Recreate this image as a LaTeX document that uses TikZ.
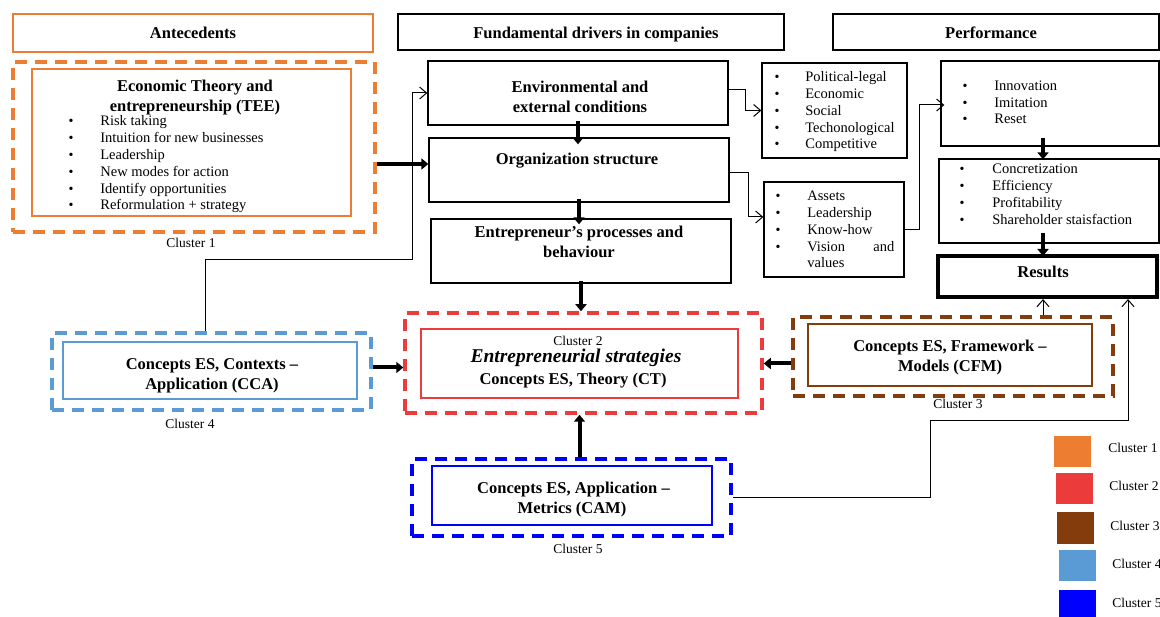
\documentclass[tikz,border=0pt]{standalone}
\usepackage{fontspec}
\setmainfont{Liberation Serif}
\usepackage{tikz}
\usetikzlibrary{arrows.meta,calc}
\definecolor{clorange}{RGB}{237,125,49}
\definecolor{clred}{RGB}{235,59,59}
\definecolor{clbrown}{RGB}{132,60,12}
\definecolor{cllblue}{RGB}{91,155,213}
\definecolor{clblue}{RGB}{0,0,255}
\tikzset{every picture/.style={line width=0.75pt}}
\tikzset{
  box/.style={draw, line width=1.3pt, inner sep=0pt},
  dbox/.style={draw, line width=3.5pt, dash pattern=on 12pt off 8pt, inner sep=0pt},
  ibox/.style={draw, line width=1.2pt, inner sep=0pt},
  ttl/.style={font=\fontsize{16.5}{20}\selectfont\bfseries, anchor=base, inner sep=0pt},
  itm/.style={font=\fontsize{14.5}{17}\selectfont, anchor=base west, inner sep=0pt},
  blt/.style={font=\fontsize{14}{16}\selectfont, anchor=base, inner sep=0pt},
  clab/.style={font=\fontsize{13.5}{16}\selectfont, anchor=base, inner sep=0pt},
  thk/.style={line width=4pt, -{Triangle[length=7pt,width=11pt]}},
  thn/.style={line width=1pt, -{Straight Barb[length=7pt,width=12pt]}},
  lgd/.style={minimum width=37pt, minimum height=31pt, inner sep=0pt}
}

\begin{document}
\begin{tikzpicture}[x=1pt,y=1pt,yscale=-1,xscale=1]
\useasboundingbox (0,0) rectangle (1160,617);

%Headers
\node[box, draw=clorange, minimum width=360, minimum height=38] (ante) at (193,33) {};
\node[ttl] (antet) at (193,39) {Antecedents};
\node[box, minimum width=386, minimum height=36] (fund) at (591,32) {};
\node[ttl] (fundt) at (596,39) {Fundamental drivers in companies};
\node[box, minimum width=326, minimum height=36] (perf) at (996,32) {};
\node[ttl] (perft) at (991,39) {Performance};

%Cluster 1
\node[dbox, draw=clorange, minimum width=362, minimum height=170] (cl1) at (194,147) {};
\node[ibox, draw=clorange, minimum width=319, minimum height=147] (tee) at (191.5,142.5) {};
\node[ttl] (teet1) at (195,92) {Economic Theory and};
\node[ttl] (teet2) at (195,112) {entrepreneurship (TEE)};
\foreach \t [count=\i] in {Risk taking,Intuition for new businesses,Leadership,New modes for action,Identify\ opportunities,Reformulation + strategy}{
  \node[blt] (teeb\i) at (71,{126+16.8*(\i-1)}) {\textbullet};
  \node[itm] (tee\i) at (100,{126+16.8*(\i-1)}) {\t};
}
\node[clab] (cl1t) at (191,248) {Cluster 1};

%Fundamental drivers
\node[box, minimum width=300, minimum height=64] (env) at (578,93) {};
\node[ttl] (envt1) at (580,93) {Environmental and};
\node[ttl] (envt2) at (580,113) {external conditions};
\node[box, minimum width=300, minimum height=64] (org) at (579,170) {};
\node[ttl] (orgt) at (577,165) {Organization structure};
\node[box, minimum width=300, minimum height=64] (entr) at (581,251) {};
\node[ttl] (entrt1) at (579,238) {Entrepreneur’s processes and};
\node[ttl] (entrt2) at (579,258) {behaviour};

%Lists of drivers
\node[box, minimum width=145, minimum height=95] (envl) at (834.5,110.5) {};
\foreach \t [count=\i] in {Political-legal,Economic,Social,Techonological,Competitive}{
  \node[blt] (envlb\i) at (777,{82+16.75*(\i-1)}) {\textbullet};
  \node[itm] (envl\i) at (805,{82+16.75*(\i-1)}) {\t};
}
\node[box, minimum width=140, minimum height=95] (orgl) at (834,229.5) {};
\foreach \t [count=\i] in {Assets,Leadership,Know-how,\makebox[87pt][l]{Vision\hfill and}}{
  \node[blt] (orglb\i) at (778,{201+16.75*(\i-1)}) {\textbullet};
  \node[itm] (orgl\i) at (807,{201+16.75*(\i-1)}) {\t};
}
\node[itm] (orgl5) at (807,268) {values};

%Performance
\node[box, minimum width=218, minimum height=85] (innov) at (1050,103.5) {};
\foreach \t [count=\i] in {Innovation,Imitation,Reset}{
  \node[blt] (innovb\i) at (965,{91+16.5*(\i-1)}) {\textbullet};
  \node[itm] (innov\i) at (994,{91+16.5*(\i-1)}) {\t};
}
\node[box, minimum width=220, minimum height=84] (conc) at (1049,201) {};
\foreach \t [count=\i] in {Concretization,Efficiency,Profitability,Shareholder\ staisfaction}{
  \node[blt] (concb\i) at (962,{174+16.7*(\i-1)}) {\textbullet};
  \node[itm] (conc\i) at (992,{174+16.7*(\i-1)}) {\t};
}
\node[box, line width=4pt, minimum width=219, minimum height=41] (res) at (1047,276.5) {};
\node[ttl] (rest) at (1043,278) {Results};

%Cluster 2
\node[dbox, draw=clred, minimum width=357, minimum height=100] (cl2) at (583.5,363) {};
\node[ibox, draw=clred, minimum width=317, minimum height=69] (ct) at (579.5,363.5) {};
\node[clab] (cl2t) at (578,346) {Cluster 2};
\node[ttl, font=\fontsize{19.5}{22}\selectfont\bfseries\itshape] (ctt1) at (576,363) {Entrepreneurial strategies};
\node[ttl] (ctt2) at (573,385) {Concepts ES, Theory (CT)};

%Cluster 4
\node[dbox, draw=cllblue, minimum width=319, minimum height=77] (cl4) at (211.5,371.5) {};
\node[ibox, draw=cllblue, minimum width=294, minimum height=57] (cca) at (210,370.5) {};
\node[ttl] (ccat1) at (212,370) {Concepts ES, Contexts –};
\node[ttl] (ccat2) at (212,390) {Application (CCA)};
\node[clab] (cl4t) at (190,429) {Cluster 4};

%Cluster 3
\node[dbox, draw=clbrown, minimum width=320, minimum height=79] (cl3) at (953,356.5) {};
\node[ibox, draw=clbrown, minimum width=284, minimum height=62] (cfm) at (950,355) {};
\node[ttl] (cfmt1) at (950,352) {Concepts ES, Framework –};
\node[ttl] (cfmt2) at (950,372) {Models (CFM)};
\node[clab] (cl3t) at (958,409) {Cluster 3};

%Cluster 5
\node[dbox, draw=clblue, minimum width=319, minimum height=77] (cl5) at (571.5,497.5) {};
\node[ibox, draw=clblue, minimum width=280, minimum height=59] (cam) at (572,495.5) {};
\node[ttl] (camt1) at (573.5,494) {Concepts ES, Application –};
\node[ttl] (camt2) at (572,514) {Metrics (CAM)};
\node[clab] (cl5t) at (578,553) {Cluster 5};

%Legend
\node[lgd, fill=clorange] (k1) at (1072.5,451.5) {};
\node[clab, anchor=base west] (k1t) at (1108,453) {Cluster 1};
\node[lgd, fill=clred] (k2) at (1074.5,489) {};
\node[clab, anchor=base west] (k2t) at (1109,491) {Cluster 2};
\node[lgd, fill=clbrown] (k3) at (1075.5,528) {};
\node[clab, anchor=base west] (k3t) at (1110,530) {Cluster 3};
\node[lgd, fill=cllblue] (k4) at (1077,565.5) {};
\node[clab, anchor=base west] (k4t) at (1112,568) {Cluster 4};
\node[lgd, fill=clblue] (k5) at (1077,605) {};
\node[clab, anchor=base west] (k5t) at (1112,607) {Cluster 5};

%Thick arrows
\draw[thk] ($(cl1.east)+(0,17)$) -- ($(org.west)+(0,-6)$);
\draw[thk, shorten <=-5pt, shorten >=-7pt] (env.south) -- (env.south |- org.north);
\draw[thk, shorten <=-4pt, shorten >=-6pt] (org.south) -- (org.south |- entr.north);
\draw[thk, shorten <=-3pt] (entr.south) -- (entr.south |- cl2.north);
\draw[thk] (ct.south |- cl5.north) -- (ct.south |- cl2.south);
\draw[thk] ($(cl4.east)+(0,-4)$) -- ($(cl4.east -| cl2.west)+(0,-4)$);
\draw[thk] (cl3.west |- ct.east) -- (cl2.east |- ct.east);
\draw[thk, shorten <=-9pt, shorten >=-1pt] ($(innov.south)+(-7,0)$) -- ($(conc.north)+(-6,0)$);
\draw[thk, shorten <=-11pt, shorten >=-2pt] ($(conc.south)+(-6,0)$) -- ($(res.north)+(-4,0)$);

%Thin arrows
\draw[thn] ($(cl4.north)+(-6,0)$) |- ++(207,-72) |- (env.west);
\draw[thn] ($(env.east)+(0,-3)$) -| ++(17,20.5) -- (envl.west);
\draw[thn] ($(org.east)+(0,3)$) -| ++(19,44) -- ($(orgl.west)+(0,-12.5)$);
\draw[thn] (orgl.east) -| ++(15,-124.5) -- ($(innov.west)+(4,1.5)$);
\draw[thn] ($(res.south |- cl3.north)+(-4,0)$) -- ($(res.south)+(-4,0)$);
\draw[thn] (cl5.east) -| ++(198,-77) -| ($(res.south)+(81,0)$);

\end{tikzpicture}
\end{document}
